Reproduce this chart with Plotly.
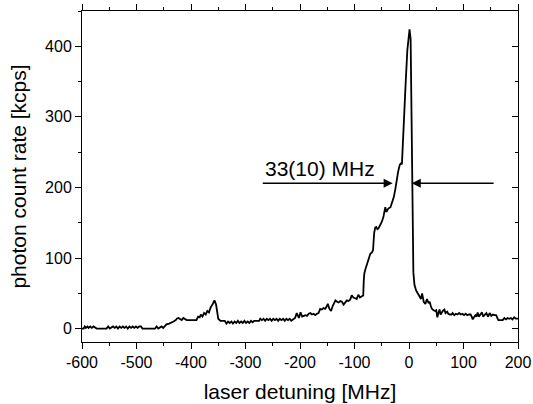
import plotly.graph_objects as go

# laser detuning [MHz]
detuning = [
    -600, -597, -595, -593, -590, -588, -585, -582, -579, -576, -573, -555, -552, -549, -546,
    -543, -540, -537, -534, -531, -528, -525, -522, -519, -516, -513, -510, -507, -504, -501,
    -498, -495, -492, -489, -466, -463, -460, -457, -454, -451, -448, -445, -440, -436, -432,
    -428, -426, -423, -420, -417, -414, -411, -408, -390, -387, -384, -382, -379, -376, -373,
    -370, -367, -364, -360, -357, -354, -350, -346, -341, -338, -335, -332, -329, -326, -323,
    -320, -317, -314, -311, -308, -305, -302, -299, -296, -293, -290, -287, -284, -275, -273,
    -270, -267, -264, -261, -258, -255, -252, -249, -246, -243, -240, -237, -234, -231, -228,
    -225, -222, -219, -216, -212, -209, -206, -202, -199, -196, -193, -190, -187, -184, -181,
    -178, -175, -172, -169, -166, -163, -160, -157, -154, -152, -149, -146, -143, -140, -137,
    -135, -132, -129, -126, -123, -120, -117, -114, -111, -108, -105, -102, -99, -96, -93,
    -90, -88, -86, -84, -83, -82, -80, -77, -74, -71, -68, -66, -64, -62, -60,
    -58, -56, -53, -50, -47, -45, -43.5, -41.5, -38, -34, -31, -28, -25, -23, -20,
    -17, -15, -13, -10, -6, -3, -1, 1, 3, 4, 5, 6, 7, 8, 10,
    13, 16, 19, 22, 24, 27, 30, 33, 36, 38, 40, 42, 45, 48, 50,
    52, 54, 56, 58, 60, 62, 65, 67, 70, 72, 75, 78, 80, 83, 86,
    89, 92, 95, 98, 101, 104, 107, 110, 113, 115, 117, 120, 122, 124, 126,
    128, 131, 134, 136, 139, 142, 145, 148, 151, 154, 157, 160, 162, 164, 168,
    172, 175, 178, 181, 184, 187, 190, 193, 196, 200,
]

# photon count rate [kcps]
count_rate = [
    0, 0, 3, 1, 3, 1, 3, 1, 3, 1, 0, 0, 3, 0, 1,
    3, 1, 3, 0, 3, 1, 3, 1, 3, 0, 3, 1, 3, 1, 3,
    1, 3, 3, 0, 0, 3, 0, 1, 3, 1, 4, 6, 7, 8, 10,
    12, 14, 15, 13, 12, 15, 13, 12, 12, 17, 16, 20, 17, 22, 20,
    25, 23, 30, 35, 40, 34, 14, 11, 11, 11, 7, 10, 8, 10, 7,
    10, 8, 11, 8, 10, 8, 11, 8, 10, 8, 11, 9, 11, 11, 14,
    12, 14, 11, 14, 12, 14, 11, 14, 12, 14, 11, 14, 12, 14, 11,
    14, 12, 14, 11, 14, 15, 22, 15, 23, 17, 18, 19, 18, 21, 22,
    20, 21, 19, 21, 22, 28, 27, 29, 28, 30, 35, 28, 25, 32, 36,
    40, 38, 37, 39, 38, 34, 38, 40, 39, 41, 47, 44, 43, 42, 48,
    44, 45, 46, 47, 68, 78, 84, 92, 100, 106, 108, 111, 135, 143, 144,
    141, 142, 146, 151, 158, 166, 172, 165, 170, 172, 180, 186, 198, 210, 222,
    232, 234, 233, 295, 350, 395, 415, 424, 410, 330, 230, 150, 100, 80, 62,
    54, 50, 46, 42, 50, 38, 35, 42, 36, 38, 32, 28, 26, 25, 26,
    16, 22, 27, 20, 23, 25, 27, 22, 24, 21, 20, 20, 22, 19, 21,
    20, 22, 20, 21, 19, 21, 19, 20, 20, 17, 13, 17, 19, 17, 23,
    17, 20, 23, 17, 20, 22, 17, 22, 18, 20, 19, 19, 15, 12, 12,
    12, 15, 13, 15, 14, 15, 13, 16, 14, 14,
]

x_tick_values = [-600, -500, -400, -300, -200, -100, 0, 100, 200]
x_tick_labels = ["-600", "-500", "-400", "-300", "-200", "-100", "0", "100", "200"]
y_tick_values = [0, 100, 200, 300, 400]
y_tick_labels = ["0", "100", "200", "300", "400"]

x_range = [-600, 200]
y_range = [-19, 450]
fwhm_label = "33(10) MHz"
left_arrow = {"tail": -271, "head": -30, "y": 206}
right_arrow = {"tail": 158, "head": 5, "y": 206}

FONT = "Arial, Liberation Sans, sans-serif"

fig = go.Figure()
fig.add_trace(go.Scatter(
    x=detuning, y=count_rate, mode="lines",
    line=dict(color="black", width=1.8),
    showlegend=False, hoverinfo="skip",
))
# invisible trace to activate mirror axes
fig.add_trace(go.Scatter(
    x=[x_range[0]], y=[0], xaxis="x2", yaxis="y2", mode="markers",
    marker=dict(opacity=0), showlegend=False, hoverinfo="skip",
))

tickfont = dict(family=FONT, size=16, color="black")
common = dict(showgrid=False, zeroline=False, showline=True, linecolor="black",
              linewidth=1, tickcolor="black", tickwidth=1, ticklen=6, automargin=False)

fig.update_layout(
    width=533, height=404,
    margin=dict(l=82, r=15, t=11, b=62),
    paper_bgcolor="white", plot_bgcolor="white",
    xaxis=dict(range=x_range, tickvals=x_tick_values, ticktext=x_tick_labels,
               ticks="outside", tickfont=tickfont,
               minor=dict(ticks="outside", dtick=50, ticklen=3, tickcolor="black"),
               title=dict(text="laser detuning [MHz]",
                          font=dict(family=FONT, size=21, color="black"), standoff=14),
               **common),
    yaxis=dict(range=y_range, tickvals=y_tick_values, ticktext=y_tick_labels,
               ticks="outside", tickfont=tickfont,
               minor=dict(ticks="outside", dtick=50, ticklen=3, tickcolor="black"),
               title=dict(text="photon count rate [kcps]",
                          font=dict(family=FONT, size=21, color="black"), standoff=12),
               **common),
    xaxis2=dict(range=x_range, dtick=100, ticks="outside", overlaying="x", side="top",
                showticklabels=False,
                minor=dict(ticks="outside", dtick=50, ticklen=3, tickcolor="black"),
                **common),
    yaxis2=dict(range=y_range, dtick=100, ticks="inside", overlaying="y", side="right",
                showticklabels=False,
                minor=dict(ticks="inside", dtick=50, ticklen=3, tickcolor="black"),
                **common),
)

for arr in (left_arrow, right_arrow):
    fig.add_annotation(
        x=arr["head"], y=arr["y"], ax=arr["tail"], ay=arr["y"],
        xref="x", yref="y", axref="x", ayref="y",
        showarrow=True, arrowhead=2, arrowsize=1.2, arrowwidth=1.5,
        arrowcolor="black", text="", standoff=0, startstandoff=0,
    )

fig.add_annotation(
    x=-267, y=227, xref="x", yref="y", text=fwhm_label, showarrow=False,
    xanchor="left", yanchor="middle",
    font=dict(family=FONT, size=21, color="black"),
)

fig.write_html("out.html", config={"displayModeBar": False},
               post_script="document.body.style.margin='0';")
